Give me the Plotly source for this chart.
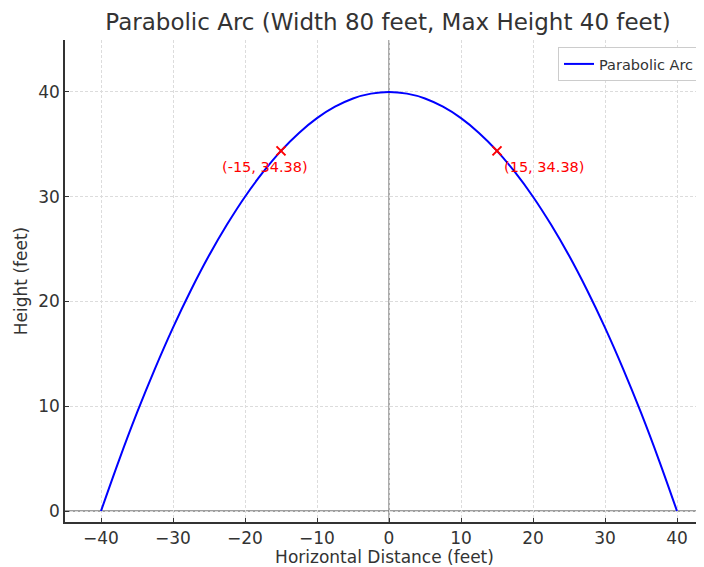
import plotly.graph_objects as go

# Values
x_vals = [-40, -37.5, -35, -32.5, -30, -27.5, -25, -22.5, -20, -17.5, -15, -12.5, -10, -7.5, -5, -2.5,
          0, 2.5, 5, 7.5, 10, 12.5, 15, 17.5, 20, 22.5, 25, 27.5, 30, 32.5, 35, 37.5, 40]
y_vals = [0, 4.84, 9.38, 13.59, 17.5, 21.09, 24.38, 27.34, 30, 32.34, 34.38, 36.09, 37.5, 38.59, 39.38, 39.84,
          40, 39.84, 39.38, 38.59, 37.5, 36.09, 34.38, 32.34, 30, 27.34, 24.38, 21.09, 17.5, 13.59, 9.38, 4.84, 0]
mark_x = [-15, 15]
mark_y = [34.38, 34.38]
mark_labels = ["(-15, 34.38)", "(15, 34.38)"]
x_ticks = [-40, -30, -20, -10, 0, 10, 20, 30, 40]
y_ticks = [0, 10, 20, 30, 40]

FONT = "DejaVu Sans"
TXT = "#333333"

fig = go.Figure()
fig.add_trace(go.Scatter(x=x_vals, y=y_vals, mode="lines", line=dict(color="blue", width=2, shape="spline"),
                         name="Parabolic Arc"))
fig.add_trace(go.Scatter(x=mark_x, y=mark_y, mode="markers",
                         marker=dict(symbol="x-thin", size=9, line=dict(color="red", width=2), color="red"),
                         showlegend=False))

# zero lines
fig.add_shape(type="line", xref="paper", yref="y", x0=0, x1=1, y0=0, y1=0, line=dict(color="#808080", width=1.3), layer="between")
fig.add_shape(type="line", xref="x", yref="paper", x0=0, x1=0, y0=0, y1=1, line=dict(color="#808080", width=1.3), layer="between")

fig.add_annotation(x=mark_x[0], y=mark_y[0], text=mark_labels[0], showarrow=False, xanchor="center", yanchor="middle",
                   xshift=-16, yshift=-16, font=dict(color="red", size=14.5, family=FONT))
fig.add_annotation(x=mark_x[1], y=mark_y[1], text=mark_labels[1], showarrow=False, xanchor="left", yanchor="middle",
                   xshift=5, yshift=-16, font=dict(color="red", size=14.5, family=FONT))

fig.update_layout(
    width=696, height=559,
    margin=dict(l=57, r=0, t=32, b=45, autoexpand=False),
    plot_bgcolor="white", paper_bgcolor="white",
    font=dict(family=FONT, color=TXT),
    title=dict(text="Parabolic Arc (Width 80 feet, Max Height 40 feet)", x=0.5055, xref="paper", xanchor="center",
               y=0.975, yanchor="middle", font=dict(size=23, color=TXT, family=FONT)),
    xaxis=dict(range=[-45, 43.75], tickvals=x_ticks, ticktext=[("\u2212" + str(-v)) if v < 0 else str(v) for v in x_ticks],
               showgrid=True, gridcolor="#dcdcdc", griddash="3px,2px", gridwidth=0.8,
               zeroline=False, showline=True, linecolor="#333333", linewidth=1.5,
               ticks="inside", ticklen=4, tickcolor="#333333", tickfont=dict(size=17, color=TXT), automargin=False,
               title=dict(text="Horizontal Distance (feet)", font=dict(size=17, color=TXT), standoff=2)),
    yaxis=dict(range=[-1.05, 44.96], tickvals=y_ticks,
               showgrid=True, gridcolor="#dcdcdc", griddash="3px,2px", gridwidth=0.8,
               zeroline=False, showline=True, linecolor="#333333", linewidth=1.5,
               ticks="inside", ticklen=4, tickcolor="#333333", tickfont=dict(size=17, color=TXT), automargin=False,
               title=dict(text="Height (feet)", font=dict(size=17, color=TXT), standoff=6)),
    legend=dict(x=0.7715, y=0.9855, xanchor="left", yanchor="top", bgcolor="white",
                bordercolor="#cccccc", borderwidth=1, font=dict(size=14.5, color=TXT, family=FONT)),
)

fig.write_html("out.html")
